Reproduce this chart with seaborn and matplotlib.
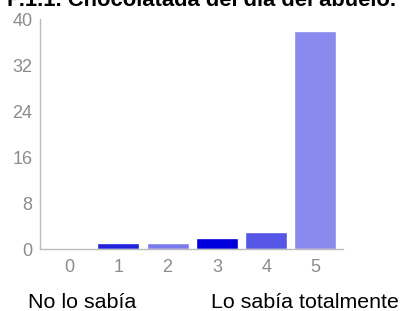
import numpy as np
import pandas as pd
import matplotlib
matplotlib.use('Agg')
import matplotlib.pyplot as plt
import seaborn as sns

# Data
categories = ['0', '1', '2', '3', '4', '5']
counts = [0, 1, 1, 2, 3, 38]
bar_colors = ['#8a8aee', '#2222dd', '#7a7aee', '#0000dd', '#5555e6', '#8a8aee']
y_ticks = [0, 8, 16, 24, 32, 40]

title = 'P.1.1. Chocolatada del día del abuelo.'
left_note = 'No lo sabía'
right_note = 'Lo sabía totalmente'

df = pd.DataFrame({'answer': categories, 'count': counts})

sns.set_style('white')
plt.rcParams['font.family'] = ['Liberation Sans', 'DejaVu Sans']

fig = plt.figure(figsize=(4.03, 3.11), dpi=100)
ax = fig.add_axes([40 / 403, 62 / 311, 303 / 403, 230 / 311])

sns.barplot(x='answer', y='count', data=df, hue='answer', palette=bar_colors,
            legend=False, width=0.85, saturation=1, ax=ax)

ax.set_xlim(-0.59, 5.56)
ax.set_ylim(0, 40)
ax.set_yticks(y_ticks)
ax.set_xlabel('')
ax.set_ylabel('')

for s in ['top', 'right']:
    ax.spines[s].set_visible(False)
for s in ['left', 'bottom']:
    ax.spines[s].set_color('#bbbbbb')
    ax.spines[s].set_linewidth(1)
ax.tick_params(axis='both', colors='#bbbbbb', labelcolor='#8c8c8c',
               labelsize=13, length=4, width=1, direction='out')
ax.tick_params(axis='x', pad=3.5)
ax.tick_params(axis='y', pad=1.5)

# title is partly cropped at the top edge, as in the original
fig.text(0.5, 1 - 6 / 311, title, ha='center', va='baseline',
         fontsize=15.8, fontweight='bold', color='black')
fig.text(28 / 403, 1 - 308 / 311, left_note, ha='left', va='baseline',
         fontsize=15.4, color='black')
fig.text(211 / 403, 1 - 308 / 311, right_note, ha='left', va='baseline',
         fontsize=15.4, color='black')

fig.savefig('out.png', dpi=100)
plt.close(fig)
